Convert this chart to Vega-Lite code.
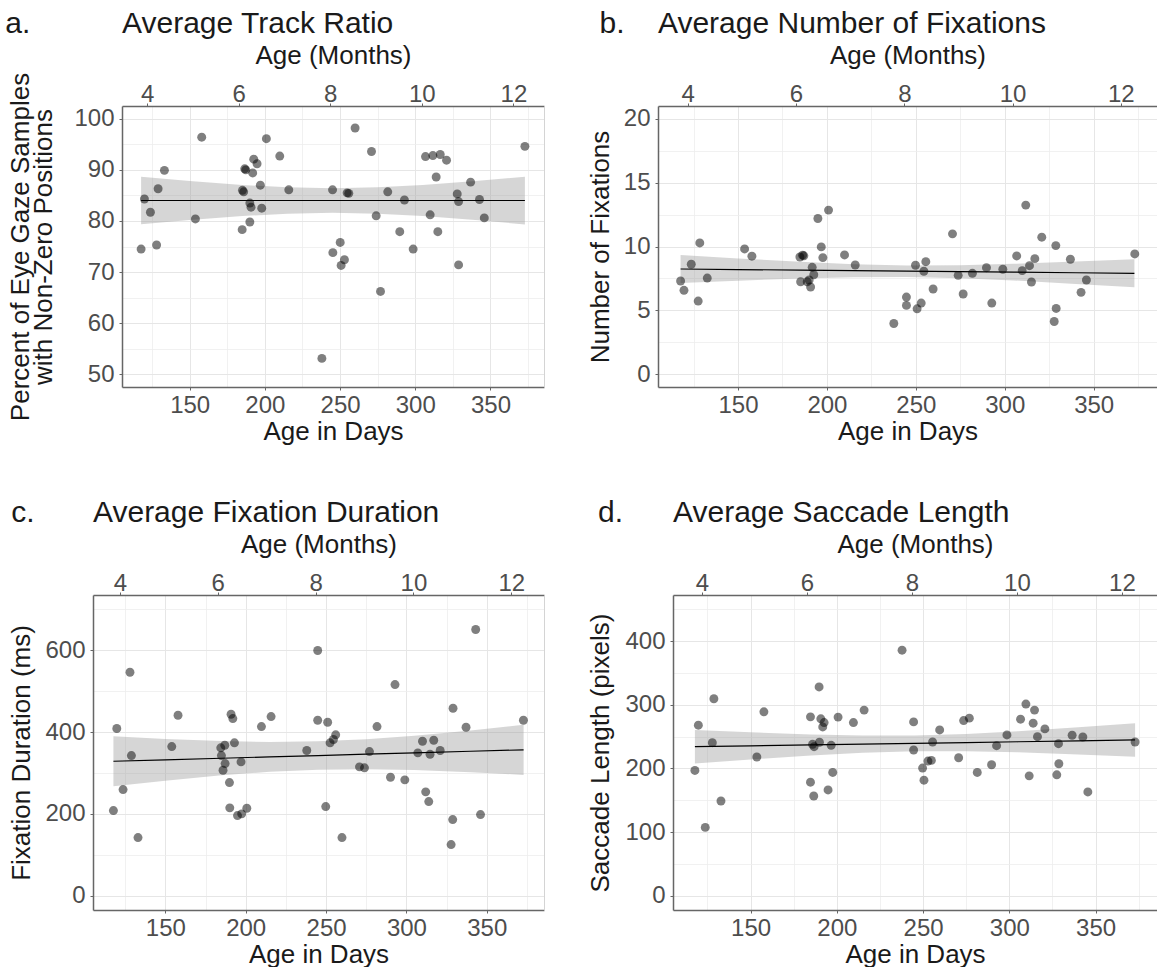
{
  "$schema": "https://vega.github.io/schema/vega-lite/v6.json",
  "background": "white",
  "padding": {"left": 5, "top": 9, "right": 0, "bottom": 0},
  "config": {
    "font": "Liberation Sans",
    "view": {"stroke": null},
    "axis": {
      "labelFont": "Liberation Sans", "labelFontSize": 24, "labelColor": "#4d4d4d",
      "titleFont": "Liberation Sans", "titleFontSize": 26, "titleFontWeight": "normal", "titleColor": "#1a1a1a",
      "domainColor": "#666666", "domainWidth": 1.5, "tickColor": "#666666", "tickSize": 3, "tickWidth": 1,
      "gridColor": "#e6e6e6", "gridWidth": 1, "labelFlush": false, "labelOverlap": false
    },
    "title": {"font": "Liberation Sans", "fontSize": 30, "fontWeight": "normal", "color": "#1a1a1a", "anchor": "start", "frame": "group", "baseline": "bottom", "offset": 3}
  },
  "datasets": {
    "pts_a": [
      {"day":117.7,"value":74.5},{"day":119.9,"value":84.3},{"day":123.9,"value":81.7},{"day":128.0,"value":75.3},{"day":129.0,"value":86.3},{"day":133.2,"value":89.9},{"day":153.8,"value":80.4},{"day":158.0,"value":96.4},{"day":184.9,"value":78.3},{"day":185.1,"value":86.0},{"day":185.9,"value":85.7},{"day":186.6,"value":90.2},{"day":187.3,"value":90.0},{"day":190.0,"value":79.8},{"day":190.0,"value":83.5},{"day":190.8,"value":82.7},{"day":191.9,"value":89.4},{"day":192.6,"value":92.1},{"day":194.8,"value":91.2},{"day":197.0,"value":87.0},{"day":197.9,"value":82.5},{"day":201.0,"value":96.1},{"day":209.9,"value":92.7},{"day":215.9,"value":86.1},{"day":237.9,"value":53.1},{"day":245.0,"value":86.1},{"day":245.2,"value":73.8},{"day":250.1,"value":75.8},{"day":250.7,"value":71.3},{"day":252.9,"value":72.4},{"day":254.7,"value":85.5},{"day":255.8,"value":85.4},{"day":260.0,"value":98.2},{"day":270.9,"value":93.6},{"day":274.0,"value":81.0},{"day":276.9,"value":66.2},{"day":281.7,"value":85.7},{"day":289.7,"value":77.9},{"day":292.8,"value":84.1},{"day":298.6,"value":74.5},{"day":306.8,"value":92.6},{"day":309.9,"value":81.2},{"day":311.7,"value":92.8},{"day":313.9,"value":88.6},{"day":315.0,"value":77.9},{"day":316.6,"value":93.0},{"day":320.8,"value":91.9},{"day":327.9,"value":85.3},{"day":328.8,"value":83.8},{"day":328.8,"value":71.4},{"day":336.8,"value":87.6},{"day":342.7,"value":84.2},{"day":345.9,"value":80.6},{"day":372.9,"value":94.6}
    ],
    "band_a": [
      {"day":117.7,"lo":79.35,"hi":88.65,"fit":84.0},{"day":150,"lo":80.18,"hi":87.82,"fit":84.0},{"day":185,"lo":80.95,"hi":87.05,"fit":84.0},{"day":215,"lo":81.42,"hi":86.58,"fit":84.0},{"day":245,"lo":81.6,"hi":86.4,"fit":84.0},{"day":275,"lo":81.42,"hi":86.58,"fit":84.0},{"day":305,"lo":80.95,"hi":87.05,"fit":84.0},{"day":340,"lo":80.18,"hi":87.82,"fit":84.0},{"day":372.9,"lo":79.33,"hi":88.67,"fit":84.0}
    ],
    "pts_b": [
      {"day":117.7,"value":7.30},{"day":119.6,"value":6.57},{"day":123.7,"value":8.61},{"day":127.6,"value":5.73},{"day":128.5,"value":10.28},{"day":132.7,"value":7.53},{"day":153.7,"value":9.81},{"day":157.8,"value":9.24},{"day":184.8,"value":9.18},{"day":185.2,"value":7.24},{"day":186.3,"value":9.32},{"day":187.0,"value":9.27},{"day":188.9,"value":7.24},{"day":190.0,"value":7.38},{"day":190.8,"value":6.83},{"day":191.7,"value":8.37},{"day":192.6,"value":7.79},{"day":194.9,"value":12.19},{"day":196.8,"value":9.97},{"day":197.7,"value":9.13},{"day":200.9,"value":12.85},{"day":209.9,"value":9.34},{"day":215.9,"value":8.55},{"day":237.6,"value":3.97},{"day":244.7,"value":6.04},{"day":244.7,"value":5.39},{"day":249.8,"value":8.53},{"day":250.7,"value":5.12},{"day":253.0,"value":5.57},{"day":254.5,"value":8.06},{"day":255.6,"value":8.81},{"day":259.7,"value":6.67},{"day":270.6,"value":10.99},{"day":273.8,"value":7.74},{"day":276.6,"value":6.28},{"day":281.8,"value":7.90},{"day":289.7,"value":8.34},{"day":292.7,"value":5.57},{"day":298.9,"value":8.22},{"day":306.7,"value":9.26},{"day":309.8,"value":8.11},{"day":311.8,"value":13.24},{"day":313.9,"value":8.50},{"day":315.0,"value":7.22},{"day":316.9,"value":9.05},{"day":320.8,"value":10.73},{"day":327.8,"value":4.13},{"day":328.7,"value":10.07},{"day":328.9,"value":5.15},{"day":336.9,"value":9.00},{"day":342.9,"value":6.41},{"day":345.9,"value":7.38},{"day":373.1,"value":9.42}
    ],
    "band_b": [
      {"day":117.7,"lo":7.14,"hi":9.34,"fit":8.24},{"day":150,"lo":7.32,"hi":9.07,"fit":8.197},{"day":185,"lo":7.50,"hi":8.80,"fit":8.15},{"day":215,"lo":7.60,"hi":8.62,"fit":8.11},{"day":245,"lo":7.62,"hi":8.52,"fit":8.07},{"day":275,"lo":7.52,"hi":8.54,"fit":8.03},{"day":305,"lo":7.34,"hi":8.64,"fit":7.99},{"day":340,"lo":7.07,"hi":8.82,"fit":7.944},{"day":372.9,"lo":6.80,"hi":9.00,"fit":7.90}
    ],
    "pts_c": [
      {"day":117.7,"value":208},{"day":119.8,"value":408.6},{"day":123.7,"value":259.4},{"day":128.0,"value":546.2},{"day":128.9,"value":342.5},{"day":133.0,"value":142},{"day":154.0,"value":364.5},{"day":157.9,"value":441.1},{"day":184.5,"value":361.4},{"day":184.9,"value":342.5},{"day":185.9,"value":306.6},{"day":187.0,"value":367.7},{"day":187.2,"value":323},{"day":189.9,"value":276.5},{"day":190.1,"value":214.7},{"day":190.9,"value":443.5},{"day":192.0,"value":433},{"day":193.0,"value":373.6},{"day":194.9,"value":195.8},{"day":197.1,"value":327.1},{"day":197.5,"value":200},{"day":200.7,"value":213.7},{"day":209.8,"value":413.4},{"day":215.8,"value":437.9},{"day":238.0,"value":354.8},{"day":244.8,"value":599.3},{"day":244.8,"value":428.9},{"day":249.8,"value":217.8},{"day":251.0,"value":424},{"day":252.5,"value":373.6},{"day":254.6,"value":381.7},{"day":256.0,"value":393.2},{"day":259.9,"value":142},{"day":270.8,"value":314.9},{"day":273.9,"value":312.5},{"day":277.0,"value":352.3},{"day":281.7,"value":413.4},{"day":290.1,"value":289.5},{"day":292.9,"value":516.1},{"day":299.0,"value":283.1},{"day":307.1,"value":349.1},{"day":310.0,"value":377.5},{"day":312.0,"value":253.8},{"day":313.9,"value":230.1},{"day":314.7,"value":345.7},{"day":317.0,"value":380},{"day":321.0,"value":354.8},{"day":327.8,"value":124.9},{"day":328.8,"value":186},{"day":329.0,"value":458.2},{"day":337.1,"value":411.7},{"day":343.1,"value":650.6},{"day":346.1,"value":198.3},{"day":372.8,"value":428.9}
    ],
    "band_c": [
      {"day":117.7,"lo":267.6,"hi":389.6,"fit":328.6},{"day":150,"lo":281.1,"hi":383.1,"fit":332.1},{"day":185,"lo":294.1,"hi":377.9,"fit":336.0},{"day":215,"lo":302.7,"hi":375.9,"fit":339.3},{"day":245,"lo":308.0,"hi":377.2,"fit":342.6},{"day":275,"lo":309.3,"hi":382.5,"fit":345.9},{"day":305,"lo":307.3,"hi":391.1,"fit":349.2},{"day":340,"lo":302.0,"hi":404.0,"fit":353.0},{"day":372.9,"lo":295.3,"hi":417.7,"fit":356.5}
    ],
    "pts_d": [
      {"day":117.7,"value":196.8},{"day":119.7,"value":267.9},{"day":123.7,"value":107.3},{"day":127.8,"value":240.4},{"day":128.7,"value":309.5},{"day":132.8,"value":148.8},{"day":153.6,"value":217.9},{"day":157.7,"value":288.9},{"day":184.7,"value":281.0},{"day":184.7,"value":178.4},{"day":185.9,"value":237.9},{"day":186.6,"value":156.7},{"day":186.8,"value":234.1},{"day":189.7,"value":328.0},{"day":189.9,"value":241.1},{"day":190.7,"value":277.9},{"day":191.8,"value":265.2},{"day":192.6,"value":272.0},{"day":194.9,"value":166.2},{"day":196.7,"value":236.3},{"day":197.6,"value":193.7},{"day":200.7,"value":280.6},{"day":209.6,"value":272.0},{"day":215.8,"value":291.6},{"day":237.8,"value":385.8},{"day":244.5,"value":273.1},{"day":244.5,"value":228.9},{"day":249.7,"value":200.5},{"day":250.5,"value":181.5},{"day":252.8,"value":211.5},{"day":254.8,"value":212.6},{"day":255.5,"value":241.5},{"day":259.6,"value":260.5},{"day":270.6,"value":216.7},{"day":273.5,"value":275.2},{"day":276.8,"value":279.0},{"day":281.4,"value":193.7},{"day":289.7,"value":205.7},{"day":292.6,"value":235.7},{"day":298.6,"value":252.6},{"day":306.5,"value":277.4},{"day":309.6,"value":301.1},{"day":311.5,"value":188.3},{"day":313.8,"value":271.1},{"day":314.6,"value":291.6},{"day":316.3,"value":249.9},{"day":320.6,"value":262.1},{"day":327.5,"value":189.9},{"day":328.5,"value":238.9},{"day":328.7,"value":207.3},{"day":336.4,"value":252.1},{"day":342.6,"value":249.4},{"day":345.5,"value":163.0},{"day":372.9,"value":241.5}
    ],
    "band_d": [
      {"day":117.7,"lo":207.8,"hi":260.4,"fit":234.1},{"day":150,"lo":214.1,"hi":256.7,"fit":235.4},{"day":185,"lo":220.4,"hi":253.4,"fit":236.9},{"day":215,"lo":224.5,"hi":251.7,"fit":238.1},{"day":245,"lo":227.0,"hi":251.8,"fit":239.4},{"day":275,"lo":227.0,"hi":254.2,"fit":240.6},{"day":305,"lo":225.4,"hi":258.4,"fit":241.9},{"day":340,"lo":222.0,"hi":264.6,"fit":243.3},{"day":372.9,"lo":218.3,"hi":271.1,"fit":244.7}
    ]
  },
  "columns": 2,
  "spacing": {"row": 208, "column": 114},
  "bounds": "flush",
  "align": "each",
  "concat": [
    {
      "width": 451, "height": 281,
      "title": {"text": "a.\u00a0\u00a0\u00a0\u00a0\u00a0\u00a0\u00a0\u00a0\u00a0\u00a0\u00a0Average Track Ratio", "dx": -87.7},
      "layer": [
        {"data": {"name": "band_a"}, "mark": {"type": "area", "color": "#999999", "opacity": 0.4},
         "encoding": {
           "x": {"field": "day", "type": "quantitative", "scale": {"domain": [105, 385.6], "range": [29, 451], "nice": false, "zero": false},
                 "axis": {"orient": "bottom", "values": [150, 200, 250, 300, 350], "title": "Age in Days", "grid": true, "labelBaseline": "alphabetic", "labelPadding": 22, "titleY": 52, "titleBaseline": "alphabetic"}},
           "y": {"field": "lo", "type": "quantitative", "scale": {"domain": [47.5, 102.5], "nice": false, "zero": false},
                 "axis": {"orient": "left", "offset": -29, "values": [50, 60, 70, 80, 90, 100], "title": ["Percent of Eye Gaze Samples", "with Non-Zero Positions"], "titleLineHeight": 23.5, "grid": true, "labelPadding": 5, "titleX": -102, "titleBaseline": "middle"}},
           "y2": {"field": "hi"}}},
        {"data": {"name": "band_a"}, "mark": {"type": "line", "color": "black", "strokeWidth": 1.2},
         "encoding": {
           "x": {"field": "day", "type": "quantitative", "axis": {"orient": "bottom", "values": [125, 175, 225, 275, 325, 375], "grid": true, "gridColor": "#eeeeee", "gridWidth": 0.8, "labels": false, "ticks": false, "domain": false, "title": null}},
           "y": {"field": "fit", "type": "quantitative", "axis": {"orient": "left", "values": [55, 65, 75, 85, 95], "grid": true, "gridColor": "#eeeeee", "gridWidth": 0.8, "labels": false, "ticks": false, "domain": false, "title": null}}}},
        {"data": {"name": "pts_a"}, "mark": {"type": "circle", "size": 80, "color": "black", "opacity": 0.5},
         "encoding": {
           "x": {"field": "day", "type": "quantitative", "axis": {"orient": "top", "values": [121.75, 182.625, 243.5, 304.375, 365.25], "labelExpr": "round(datum.value / 30.4375)", "title": "Age (Months)", "grid": false, "labelBaseline": "alphabetic", "labelPadding": 1.5, "titleY": -43, "titleBaseline": "alphabetic"}},
           "y": {"field": "value", "type": "quantitative", "axis": {"orient": "right", "grid": false, "labels": false, "ticks": false, "domain": true, "domainColor": "#d4d4d4", "domainWidth": 1, "title": null}}}}
      ],
      "resolve": {"axis": {"x": "independent", "y": "independent"}}
    },
    {
      "width": 499, "height": 281,
      "title": {"text": "b.\u00a0\u00a0\u00a0\u00a0Average Number of Fixations", "dx": -58.4},
      "layer": [
        {"data": {"name": "band_b"}, "mark": {"type": "area", "color": "#999999", "opacity": 0.4},
         "encoding": {
           "x": {"field": "day", "type": "quantitative", "scale": {"domain": [105, 385.6], "nice": false, "zero": false},
                 "axis": {"orient": "bottom", "values": [150, 200, 250, 300, 350], "title": "Age in Days", "grid": true, "labelBaseline": "alphabetic", "labelPadding": 22, "titleY": 52, "titleBaseline": "alphabetic"}},
           "y": {"field": "lo", "type": "quantitative", "scale": {"domain": [-1, 21], "nice": false, "zero": false},
                 "axis": {"orient": "left", "values": [0, 5, 10, 15, 20], "title": "Number of Fixations", "grid": true, "labelPadding": 5, "titleX": -57.5, "titleBaseline": "middle"}},
           "y2": {"field": "hi"}}},
        {"data": {"name": "band_b"}, "mark": {"type": "line", "color": "black", "strokeWidth": 1.2},
         "encoding": {
           "x": {"field": "day", "type": "quantitative", "axis": {"orient": "bottom", "values": [125, 175, 225, 275, 325, 375], "grid": true, "gridColor": "#eeeeee", "gridWidth": 0.8, "labels": false, "ticks": false, "domain": false, "title": null}},
           "y": {"field": "fit", "type": "quantitative", "axis": {"orient": "left", "values": [2.5, 7.5, 12.5, 17.5], "grid": true, "gridColor": "#eeeeee", "gridWidth": 0.8, "labels": false, "ticks": false, "domain": false, "title": null}}}},
        {"data": {"name": "pts_b"}, "mark": {"type": "circle", "size": 80, "color": "black", "opacity": 0.5},
         "encoding": {
           "x": {"field": "day", "type": "quantitative", "axis": {"orient": "top", "values": [121.75, 182.625, 243.5, 304.375, 365.25], "labelExpr": "round(datum.value / 30.4375)", "title": "Age (Months)", "grid": false, "labelBaseline": "alphabetic", "labelPadding": 1.5, "titleY": -43, "titleBaseline": "alphabetic"}},
           "y": {"field": "value", "type": "quantitative", "axis": {"orient": "right", "grid": false, "labels": false, "ticks": false, "domain": true, "domainColor": "#d4d4d4", "domainWidth": 1, "title": null}}}}
      ],
      "resolve": {"axis": {"x": "independent", "y": "independent"}}
    },
    {
      "width": 451, "height": 315,
      "title": {"text": "c.\u00a0\u00a0\u00a0\u00a0\u00a0\u00a0\u00a0Average Fixation Duration", "dx": -81.7},
      "layer": [
        {"data": {"name": "band_c"}, "mark": {"type": "area", "color": "#999999", "opacity": 0.4},
         "encoding": {
           "x": {"field": "day", "type": "quantitative", "scale": {"domain": [105, 385.6], "nice": false, "zero": false},
                 "axis": {"orient": "bottom", "values": [150, 200, 250, 300, 350], "title": "Age in Days", "grid": true, "labelBaseline": "alphabetic", "labelPadding": 22, "titleY": 52, "titleBaseline": "alphabetic"}},
           "y": {"field": "lo", "type": "quantitative", "scale": {"domain": [-35, 735], "nice": false, "zero": false},
                 "axis": {"orient": "left", "values": [0, 200, 400, 600], "title": "Fixation Duration (ms)", "grid": true, "labelPadding": 5, "titleX": -71.5, "titleBaseline": "middle"}},
           "y2": {"field": "hi"}}},
        {"data": {"name": "band_c"}, "mark": {"type": "line", "color": "black", "strokeWidth": 1.2},
         "encoding": {
           "x": {"field": "day", "type": "quantitative", "axis": {"orient": "bottom", "values": [125, 175, 225, 275, 325, 375], "grid": true, "gridColor": "#eeeeee", "gridWidth": 0.8, "labels": false, "ticks": false, "domain": false, "title": null}},
           "y": {"field": "fit", "type": "quantitative", "axis": {"orient": "left", "values": [100, 300, 500, 700], "grid": true, "gridColor": "#eeeeee", "gridWidth": 0.8, "labels": false, "ticks": false, "domain": false, "title": null}}}},
        {"data": {"name": "pts_c"}, "mark": {"type": "circle", "size": 80, "color": "black", "opacity": 0.5},
         "encoding": {
           "x": {"field": "day", "type": "quantitative", "axis": {"orient": "top", "values": [121.75, 182.625, 243.5, 304.375, 365.25], "labelExpr": "round(datum.value / 30.4375)", "title": "Age (Months)", "grid": false, "labelBaseline": "alphabetic", "labelPadding": 1.5, "titleY": -43, "titleBaseline": "alphabetic"}},
           "y": {"field": "value", "type": "quantitative", "axis": {"orient": "right", "grid": false, "labels": false, "ticks": false, "domain": true, "domainColor": "#d4d4d4", "domainWidth": 1, "title": null}}}}
      ],
      "resolve": {"axis": {"x": "independent", "y": "independent"}}
    },
    {
      "width": 499, "height": 315,
      "title": {"text": "d.\u00a0\u00a0\u00a0\u00a0\u00a0\u00a0Average Saccade Length", "dx": -60},
      "layer": [
        {"data": {"name": "band_d"}, "mark": {"type": "area", "color": "#999999", "opacity": 0.4},
         "encoding": {
           "x": {"field": "day", "type": "quantitative", "scale": {"domain": [105, 385.6], "range": [15, 499], "nice": false, "zero": false},
                 "axis": {"orient": "bottom", "values": [150, 200, 250, 300, 350], "title": "Age in Days", "grid": true, "labelBaseline": "alphabetic", "labelPadding": 22, "titleY": 52, "titleBaseline": "alphabetic"}},
           "y": {"field": "lo", "type": "quantitative", "scale": {"domain": [-22.5, 472.5], "nice": false, "zero": false},
                 "axis": {"orient": "left", "offset": -15, "values": [0, 100, 200, 300, 400], "title": "Saccade Length (pixels)", "grid": true, "labelPadding": 5, "titleX": -72.5, "titleBaseline": "middle"}},
           "y2": {"field": "hi"}}},
        {"data": {"name": "band_d"}, "mark": {"type": "line", "color": "black", "strokeWidth": 1.2},
         "encoding": {
           "x": {"field": "day", "type": "quantitative", "axis": {"orient": "bottom", "values": [125, 175, 225, 275, 325, 375], "grid": true, "gridColor": "#eeeeee", "gridWidth": 0.8, "labels": false, "ticks": false, "domain": false, "title": null}},
           "y": {"field": "fit", "type": "quantitative", "axis": {"orient": "left", "values": [50, 150, 250, 350, 450], "grid": true, "gridColor": "#eeeeee", "gridWidth": 0.8, "labels": false, "ticks": false, "domain": false, "title": null}}}},
        {"data": {"name": "pts_d"}, "mark": {"type": "circle", "size": 80, "color": "black", "opacity": 0.5},
         "encoding": {
           "x": {"field": "day", "type": "quantitative", "axis": {"orient": "top", "values": [121.75, 182.625, 243.5, 304.375, 365.25], "labelExpr": "round(datum.value / 30.4375)", "title": "Age (Months)", "grid": false, "labelBaseline": "alphabetic", "labelPadding": 1.5, "titleY": -43, "titleBaseline": "alphabetic"}},
           "y": {"field": "value", "type": "quantitative", "axis": {"orient": "right", "grid": false, "labels": false, "ticks": false, "domain": true, "domainColor": "#d4d4d4", "domainWidth": 1, "title": null}}}}
      ],
      "resolve": {"axis": {"x": "independent", "y": "independent"}}
    }
  ]
}
